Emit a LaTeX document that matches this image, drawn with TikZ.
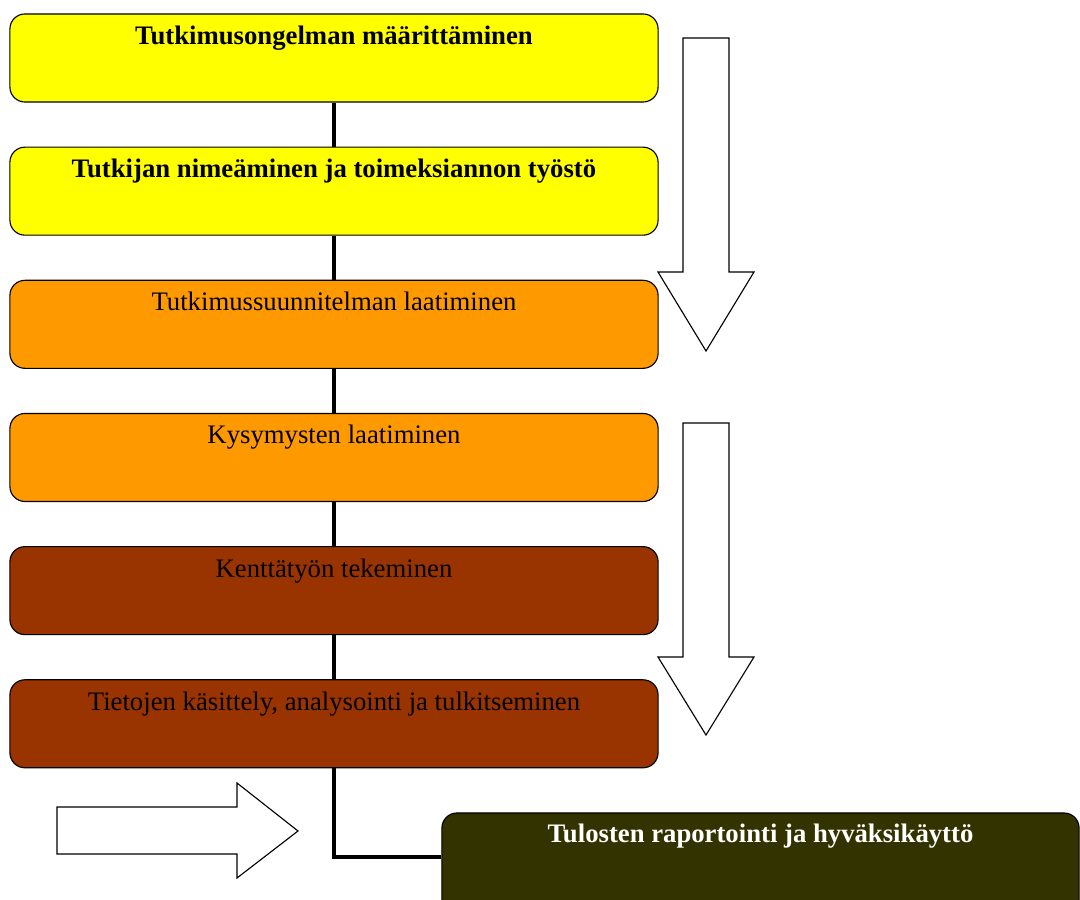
\documentclass[tikz,border=0pt]{standalone}
\usepackage{fontspec}
\setmainfont{Liberation Serif}
\usetikzlibrary{positioning}
\definecolor{stageyellow}{RGB}{255,255,0}
\definecolor{stageorange}{RGB}{255,153,0}
\definecolor{stagebrown}{RGB}{153,51,0}
\definecolor{stageolive}{RGB}{51,51,0}
\tikzstyle{stage} = [rectangle, rounded corners=0.375cm, minimum width=16.2cm, minimum height=2.2cm, draw=black, line width=0.8pt]
\tikzstyle{caption} = [anchor=base, inner sep=0pt, font=\fontsize{19}{23}\selectfont]
\tikzstyle{link} = [line width=3.5pt]
\tikzstyle{bigarrow} = [draw=black, fill=white, line width=0.8pt, line join=miter]

\begin{document}
\begin{tikzpicture}[x=0.025cm, y=-0.025cm, node distance=1.1cm]
\useasboundingbox (0,0) rectangle (1080,900);
\clip (0,0) rectangle (1080,900);
% research stages
\node (s1) [stage, fill=stageyellow] at (334,58) {};
\node (s2) [stage, fill=stageyellow, below=of s1] {};
\node (s3) [stage, fill=stageorange, below=of s2] {};
\node (s4) [stage, fill=stageorange, below=of s3] {};
\node (s5) [stage, fill=stagebrown, below=of s4] {};
\node (s6) [stage, fill=stagebrown, below=of s5] {};
\node (s7) [stage, fill=stageolive, minimum width=15.925cm, minimum height=2.8cm] at (760.5,869) {};

% stage texts
\node (t1) [caption] at ([yshift=-0.775cm]s1.north) {\textbf{Tutkimusongelman määrittäminen}};
\node (t2) [caption] at ([yshift=-0.775cm]s2.north) {\textbf{Tutkijan nimeäminen ja toimeksiannon työstö}};
\node (t3) [caption] at ([yshift=-0.775cm]s3.north) {Tutkimussuunnitelman laatiminen};
\node (t4) [caption] at ([yshift=-0.775cm]s4.north) {Kysymysten laatiminen};
\node (t5) [caption] at ([yshift=-0.775cm]s5.north) {Kenttätyön tekeminen};
\node (t6) [caption] at ([yshift=-0.775cm]s6.north) {Tietojen käsittely, analysointi ja tulkitseminen};
\node (t7) [caption, text=white] at ([yshift=-0.75cm]s7.north) {\textbf{Tulosten raportointi ja hyväksikäyttö}};

% links between stages
\draw[link] (s1) -- (s2);
\draw[link] (s2) -- (s3);
\draw[link] (s3) -- (s4);
\draw[link] (s4) -- (s5);
\draw[link] (s5) -- (s6);
\draw[link] (s6.south) |- ([yshift=0.3cm]s7.west);

% block arrows
\draw[bigarrow] (683,38) -- (729,38) -- (729,272) -- (754,272) -- (706,351) -- (658,272) -- (683,272) -- cycle;
\draw[bigarrow] (683,423) -- (729,423) -- (729,657) -- (754,657) -- (706,735) -- (658,657) -- (683,657) -- cycle;
\draw[bigarrow] (57,807) -- (237,807) -- (237,783) -- (298,831) -- (237,878) -- (237,854) -- (57,854) -- cycle;
\end{tikzpicture}
\end{document}
